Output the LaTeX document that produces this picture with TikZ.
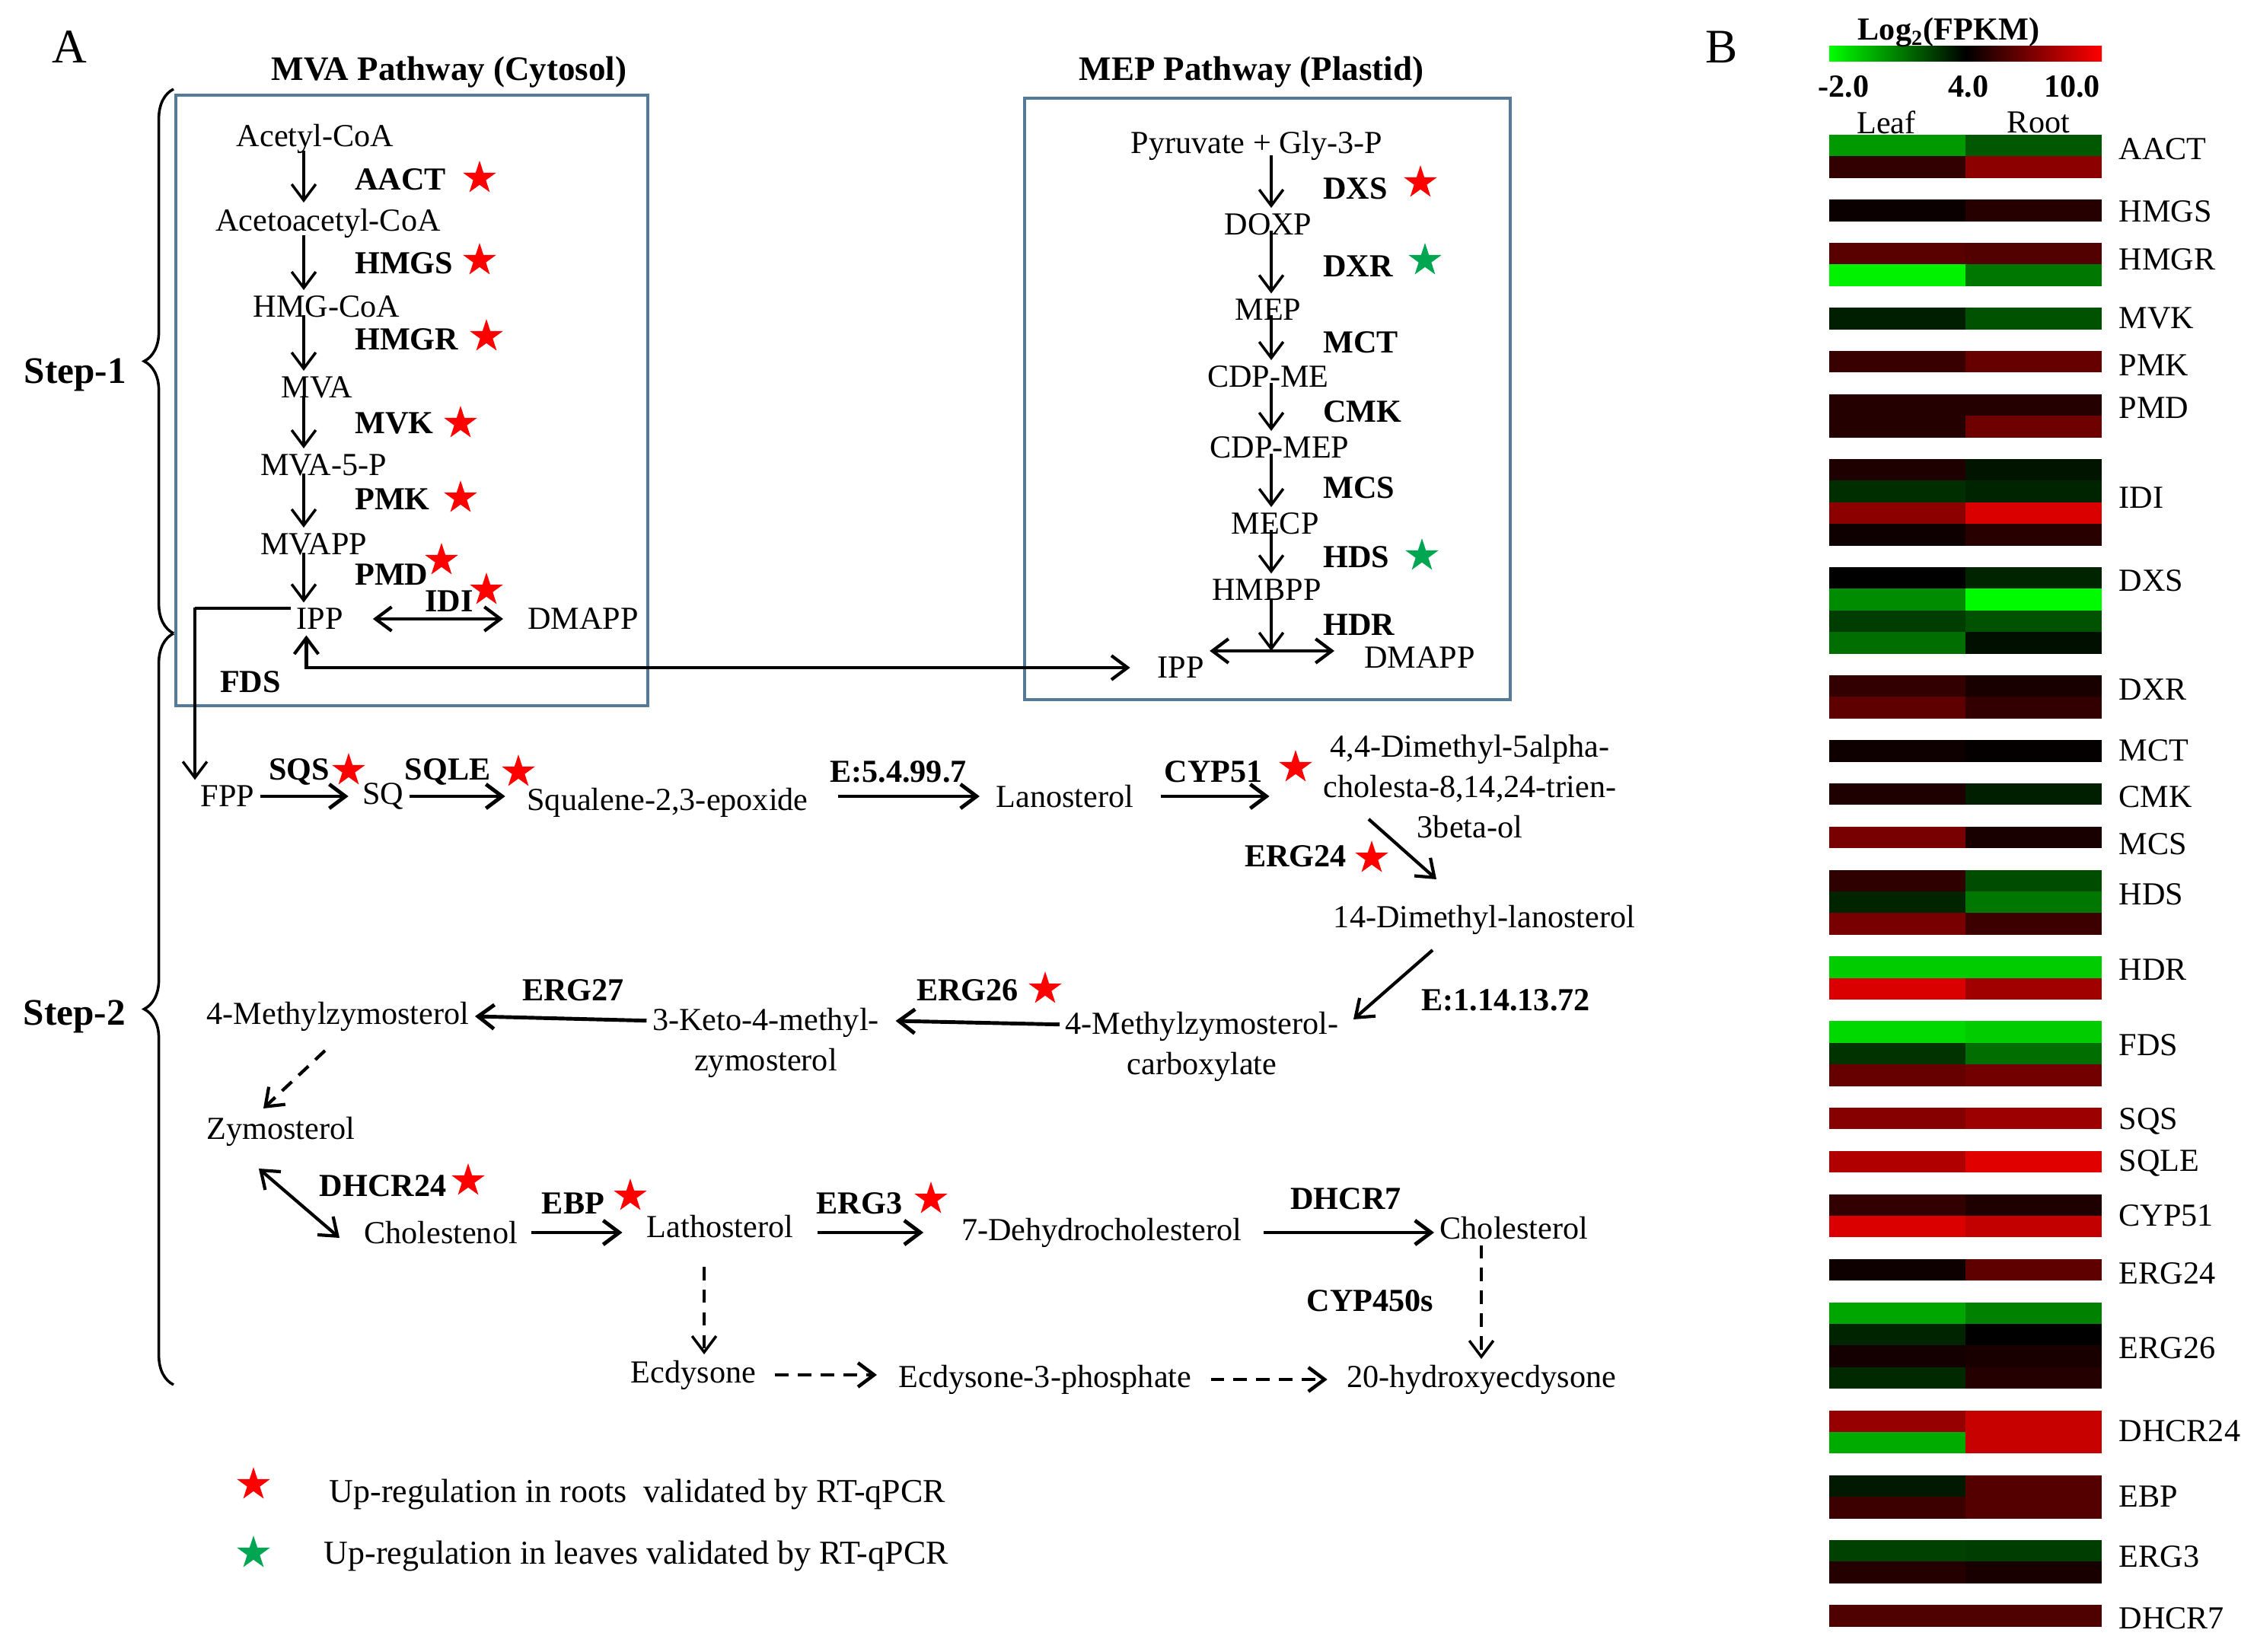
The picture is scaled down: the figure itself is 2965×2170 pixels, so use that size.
\documentclass[tikz,border=0pt]{standalone}
\usepackage{fontspec}
\setmainfont{Liberation Serif}
\usepackage{xcolor}
\usepackage{tikz}
\usetikzlibrary{arrows.meta, shapes.geometric, calc, decorations.pathreplacing}
\definecolor{boxblue}{RGB}{84,122,153}
\definecolor{upred}{RGB}{255,0,0}
\definecolor{upgreen}{RGB}{0,166,81}

\begin{document}
\begin{tikzpicture}[x=0.01cm, y=-0.01cm,
    met/.style={font=\fontsize{12}{15}\selectfont, inner sep=2pt, align=center},
    enz/.style={font=\bfseries\fontsize{12}{15}\selectfont, inner sep=1pt},
    ttl/.style={font=\bfseries\fontsize{12.8}{15}\selectfont},
    rxn/.style={-{Straight Barb[length=6pt,width=9pt]}, line width=1pt},
    rxnb/.style={rxn, line width=1.4pt},
    rxnd/.style={rxn, dash pattern=on 5pt off 3.5pt},
    bothrxn/.style={{Straight Barb[length=6pt,width=9pt]}-{Straight Barb[length=6pt,width=9pt]}, line width=1.2pt},
    upstar/.style={star, star points=5, star point ratio=2.6, fill=upred, minimum size=13pt, inner sep=0pt},
    lfstar/.style={upstar, fill=upgreen},
    pathbox/.style={draw=boxblue, line width=1.3pt},
    heatlab/.style={font=\fontsize{12}{15}\selectfont, anchor=west, inner sep=0pt}]

    \useasboundingbox (0,0) rectangle (2965,2170);

    % panel letters
    \node[font=\fontsize{18}{20}\selectfont] (pa) at (91,62) {A};
    \node[font=\fontsize{18}{20}\selectfont] (pb) at (2262,62) {B};

    % MVA pathway (cytosol)
    \node[ttl] (mvat) at (590,95) {MVA Pathway (Cytosol)};
    \draw[pathbox] (231,125) rectangle (851,927);
    \coordinate (mvax) at (399,0);
    \node[met] (acoa) at (414,182) {Acetyl-CoA};
    \node[met] (aacoa) at (431,293) {Acetoacetyl-CoA};
    \node[met] (hmgcoa) at (429,403) {HMG-CoA};
    \node[met] (mva) at (416,509) {MVA};
    \node[met] (mva5p) at (425,611) {MVA-5-P};
    \node[met] (mvapp) at (412,715) {MVAPP};
    \node[met] (ippA) at (420,813) {IPP};
    \node[met] (dmappA) at (766,813) {DMAPP};
    \node[enz, anchor=west] (aact) at (462,236) {AACT};
    \node[enz, anchor=west] (hmgs) at (462,346) {HMGS};
    \node[enz, anchor=west] (hmgr) at (462,446) {HMGR};
    \node[enz, anchor=west] (mvk) at (462,556) {MVK};
    \node[enz, anchor=west] (pmk) at (462,656) {PMK};
    \node[enz, anchor=west] (pmd) at (462,755) {PMD};
    \node[enz] (idi) at (590,790) {IDI};
    \node[upstar] (aactS) at (630,234) {};
    \node[upstar] (hmgsS) at (630,342) {};
    \node[upstar] (hmgrS) at (639,442) {};
    \node[upstar] (mvkS) at (605,556) {};
    \node[upstar] (pmkS) at (605,654) {};
    \node[upstar] (pmdS) at (580,736) {};
    \node[upstar] (idiS) at (639,775) {};
    \foreach \a/\b in {acoa/aacoa, aacoa/hmgcoa, hmgcoa/mva, mva/mva5p, mva5p/mvapp, mvapp/ippA}
        \draw[rxn] ([yshift=3pt]\a.south -| mvax) -- (\b.north -| mvax);
    \draw[bothrxn, shorten <=9pt, shorten >=7pt] (ippA.east) -- (dmappA.west);
    \node[enz] (fds) at (329,896) {FDS};

    % MEP pathway (plastid)
    \node[ttl] (mept) at (1644,95) {MEP Pathway (Plastid)};
    \draw[pathbox] (1346,129) rectangle (1984,919);
    \coordinate (mepx) at (1670,0);
    \node[met] (pyr) at (1651,191) {Pyruvate + Gly-3-P};
    \node[met] (doxp) at (1666,295) {DOXP};
    \node[met] (mep) at (1666,407) {MEP};
    \node[met] (cdpme) at (1666,495) {CDP-ME};
    \node[met] (cdpmep) at (1681,588) {CDP-MEP};
    \node[met] (mecp) at (1675,688) {MECP};
    \node[met] (hmbpp) at (1664,775) {HMBPP};
    \node[met] (ippB) at (1551,877) {IPP};
    \node[met] (dmappB) at (1865,864) {DMAPP};
    \node[enz, anchor=west] (dxs) at (1734,248) {DXS};
    \node[enz, anchor=west] (dxr) at (1734,350) {DXR};
    \node[enz, anchor=west] (mct) at (1734,450) {MCT};
    \node[enz, anchor=west] (cmk) at (1734,541) {CMK};
    \node[enz, anchor=west] (mcs) at (1734,641) {MCS};
    \node[enz, anchor=west] (hds) at (1734,732) {HDS};
    \node[enz, anchor=west] (hdr) at (1734,821) {HDR};
    \node[upstar] (dxsS) at (1866,240) {};
    \node[lfstar] (dxrS) at (1872,342) {};
    \node[lfstar] (hdsS) at (1868,730) {};
    \foreach \a/\b in {pyr/doxp, doxp/mep, mep/cdpme, cdpme/cdpmep, cdpmep/mecp, mecp/hmbpp}
        \draw[rxn] ([yshift=4pt]\a.south -| mepx) -- (\b.north -| mepx);
    \coordinate (hdrj) at (1670,855);
    \draw[rxn] ([yshift=3pt]hmbpp.south -| mepx) -- (hdrj);
    \draw[bothrxn, shorten >=9pt] (hdrj -| ippB.east) -- (hdrj -| dmappB.west);

    % links between the two boxes
    \draw[bothrxn, shorten >=8pt] ([xshift=-5pt]ippA.south) |- (ippB.west);

    % step 2: sterol part
    \node[met] (fpp) at (299,1046) {FPP};
    \node[met] (sq) at (503,1046) {SQ};
    \node[met] (sqe) at (877,1054) {Squalene-2,3-epoxide};
    \node[met] (lano) at (1399,1046) {Lanosterol};
    \node[met] (dim) at (1931,1033) {4,4-Dimethyl-5alpha-\\cholesta-8,14,24-trien-\\3beta-ol};
    \node[met] (dimlan) at (1950,1208) {14-Dimethyl-lanosterol};
    \node[met] (mzc) at (1579,1375) {4-Methylzymosterol-\\carboxylate};
    \node[met] (kz) at (1006,1370) {3-Keto-4-methyl-\\zymosterol};
    \node[met] (mz) at (444,1335) {4-Methylzymosterol};
    \node[met] (zym) at (369,1486) {Zymosterol};
    \node[met] (chn) at (579,1619) {Cholestenol};
    \node[met] (lath) at (946,1611) {Lathosterol};
    \node[met] (dhc) at (1447,1619) {7-Dehydrocholesterol};
    \node[met] (chol) at (1989,1613) {Cholesterol};
    \node[met] (ecd) at (911,1806) {Ecdysone};
    \node[met] (e3p) at (1373,1812) {Ecdysone-3-phosphate};
    \node[met] (hyd) at (1946,1812) {20-hydroxyecdysone};

    \node[enz] (sqs) at (393,1014) {SQS};
    \node[enz] (sqle) at (588,1014) {SQLE};
    \node[enz] (e5) at (1180,1014) {E:5.4.99.7};
    \node[enz] (cyp51) at (1594,1014) {CYP51};
    \node[enz] (erg24) at (1702,1125) {ERG24};
    \node[enz] (e114) at (1978,1314) {E:1.14.13.72};
    \node[enz] (erg26) at (1271,1301) {ERG26};
    \node[enz] (erg27) at (753,1301) {ERG27};
    \node[enz] (dhcr24) at (503,1558) {DHCR24};
    \node[enz] (ebp) at (753,1581) {EBP};
    \node[enz] (erg3) at (1129,1581) {ERG3};
    \node[enz] (dhcr7) at (1768,1575) {DHCR7};
    \node[enz] (cyp450) at (1800,1709) {CYP450s};
    \node[upstar] (sqsS) at (458,1012) {};
    \node[upstar] (sqleS) at (681,1014) {};
    \node[upstar] (cyp51S) at (1702,1008) {};
    \node[upstar] (erg24S) at (1802,1127) {};
    \node[upstar] (erg26S) at (1373,1299) {};
    \node[upstar] (dhcr24S) at (615,1551) {};
    \node[upstar] (ebpS) at (828,1571) {};
    \node[upstar] (erg3S) at (1223,1575) {};

    \coordinate (e24s) at (1798,1076);
    \coordinate (e24e) at (1887,1155);
    \coordinate (e114s) at (1882,1248);
    \coordinate (e114e) at (1778,1339);
    \coordinate (mzd) at (427,1380);
    \coordinate (zymd) at (346,1456);
    \coordinate (d24s) at (340,1535);
    \coordinate (d24e) at (446,1626);
    \coordinate (lathd) at (925,1664);

    \draw[rxn] (fds.west -| fpp.north west) ++(0,-98) -| (fpp.north west);
    \draw[line width=1pt] ([yshift=4pt]ippA.west) -| ([yshift=4pt]ippA.west -| fpp.north west);
    \draw[rxnb, shorten >=3pt] (fpp.east) -- (sq.west);
    \draw[rxnb, shorten >=6pt] (sq.east) -- (sqe.west |- sq);
    \draw[rxnb, shorten <=9pt, shorten >=4pt] (sqe.east |- lano) -- (lano.west);
    \draw[rxnb, shorten <=8pt, shorten >=6pt] (lano.east) -- (lano -| cyp51S.west);
    \draw[rxn, line width=1.2pt] (e24s) -- (e24e);
    \draw[rxn, line width=1.2pt] (e114s) -- (e114e);
    \draw[rxnb, shorten >=4pt] ($(mzc.north west)+(0,24)$) -- ($(kz.north east)+(0,24)$);
    \draw[rxnb] ($(kz.north west)+(0,24)$) -- (mz.east);
    \draw[rxnd, line width=1.2pt] (mzd) -- (zymd);
    \draw[bothrxn] (d24s) -- (d24e);
    \draw[rxnb, shorten <=3pt, shorten >=7pt] (chn.east) -- (lath.west |- chn.east);
    \draw[rxnb, shorten <=7pt, shorten >=12pt] (lath.east |- dhc.west) -- (dhc.west);
    \draw[rxnb, shorten <=6pt] (dhc.east) -- (chol.west |- dhc.east);
    \draw[rxnd] (chol.south -| hyd) -- (hyd.north);
    \draw[rxnd] (lathd) -- (ecd.north -| lathd);
    \draw[rxnd, line width=1.3pt, shorten <=5pt, shorten >=6pt] (ecd.east) -- (e3p.west |- ecd.east);
    \draw[rxnd, line width=1.3pt, shorten <=5pt, shorten >=5pt] (e3p.east) -- (hyd.west);

    % step braces
    \node[font=\bfseries\fontsize{14}{16}\selectfont] (st1) at (99,492) {Step-1};
    \node[font=\bfseries\fontsize{14}{16}\selectfont] (st2) at (98,1335) {Step-2};
    \draw[line width=1pt, decorate, decoration={brace, amplitude=11pt}] (228,832) -- (228,117);
    \draw[line width=1pt, decorate, decoration={brace, amplitude=11pt}] (228,1819) -- (228,832);

    % legend
    \node[upstar] (lgR) at (333,1950) {};
    \node[met, anchor=west, font=\fontsize{12.5}{15}\selectfont] (lgRt) at (425,1963) {Up-regulation in roots\ \ validated by RT-qPCR};
    \node[lfstar] (lgG) at (333,2040) {};
    \node[met, anchor=west, font=\fontsize{12.5}{15}\selectfont] (lgGt) at (418,2044) {Up-regulation in leaves validated by RT-qPCR};

    % B: heat map
    \shade[left color=green, right color=black] (2403,61) rectangle (2582,81);
    \shade[left color=black, right color=red] (2582,61) rectangle (2761,81);
    \node[enz] (hlog) at (2560,43) {Log\textsubscript{2}(FPKM)};
    \node[enz] (hmin) at (2422,114) {-2.0};
    \node[enz] (hmid) at (2586,114) {4.0};
    \node[enz] (hmax) at (2722,114) {10.0};
    \node[met] (hleaf) at (2478,161) {Leaf};
    \node[met] (hroot) at (2678,161) {Root};
    \foreach \lab/\r/\ly/\cells in {
        AACT/0/0.67/{green!60!black/green!35!black, red!20!black/red!55!black},
        HMGS/3/0.53/{red!4!black/red!15!black},
        HMGR/5/0.77/{red!35!black/red!32!black, green!95!black/green!47!black},
        MVK/8/0.49/{green!12!black/green!32!black},
        PMK/10/0.67/{red!22!black/red!40!black},
        PMD/12/0.63/{red!14!black/red!14!black, red!14!black/red!43!black},
        IDI/15/1.8/{red!12!black/green!8!black, green!18!black/green!14!black, red!55!black/red!86!black, red!6!black/red!16!black},
        DXS/20/0.63/{black/green!14!black, green!55!black/green!98!black, green!24!black/green!32!black, green!43!black/green!6!black},
        DXR/25/0.67/{red!20!black/red!10!black, red!37!black/red!20!black},
        MCT/28/0.49/{red!6!black/red!2!black},
        CMK/30/0.63/{red!12!black/green!12!black},
        MCS/32/0.81/{red!47!black/red!10!black},
        HDS/34/1.13/{red!18!black/green!30!black, green!14!black/green!47!black, red!47!black/red!24!black},
        HDR/38/0.6/{green!80!black/green!80!black, red!86!black/red!63!black},
        FDS/41/1.1/{green!85!black/green!80!black, green!20!black/green!43!black, red!40!black/red!45!black},
        SQS/45/0.63/{red!53!black/red!61!black},
        SQLE/47/0.56/{red!69!black/red!88!black},
        CYP51/49/1.0/{red!20!black/red!12!black, red!86!black/red!76!black},
        ERG24/52/0.67/{red!6!black/red!37!black},
        ERG26/54/2.1/{green!65!black/green!51!black, green!14!black/black, red!8!black/red!10!black, green!16!black/red!14!black},
        DHCR24/59/0.95/{red!59!black/red!78!black, green!67!black/red!78!black},
        EBP/62/1.0/{green!10!black/red!33!black, red!24!black/red!33!black},
        ERG3/65/0.77/{green!25!black/green!24!black, red!14!black/red!10!black},
        DHCR7/68/0.6/{red!31!black/red!31!black}}
    {
        \foreach \lc/\rc [count=\i from 0] in \cells {
            \fill[fill=\lc] (2403,{177+(\r+\i)*28.4}) rectangle (2582,{177+(\r+\i+1)*28.4});
            \fill[fill=\rc] (2582,{177+(\r+\i)*28.4}) rectangle (2761,{177+(\r+\i+1)*28.4});
        }
        \node[heatlab] (h\lab) at (2783,{177+(\r+\ly)*28.4}) {\lab};
    }
\end{tikzpicture}
\end{document}
